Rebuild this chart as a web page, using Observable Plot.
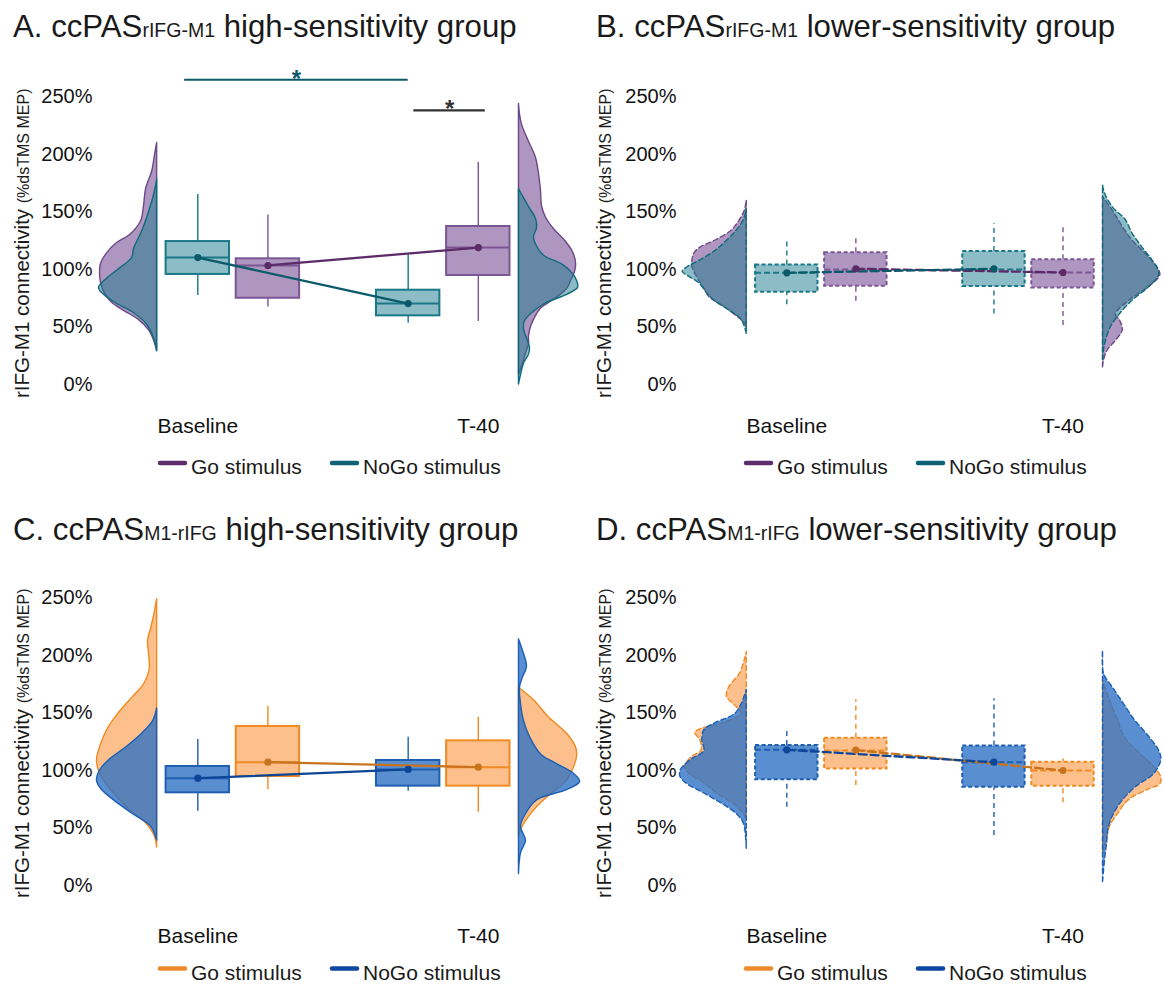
<!DOCTYPE html>
<html><head><meta charset="utf-8">
<script src="https://cdn.jsdelivr.net/npm/d3@7"></script>
<script src="https://cdn.jsdelivr.net/npm/@observablehq/plot@0.6"></script>
<style>
html,body{margin:0;padding:0;background:#fff;}
#root{position:relative;width:1164px;height:985px;overflow:hidden;background:#fff;}
.panel{position:absolute;}
</style></head><body><div id="root"></div>
<script>
// ---------- DATA ----------
const times = ["Baseline", "T-40"];
const conditions = ["Go", "NoGo"];
const legendLabels = ["Go stimulus", "NoGo stimulus"];
const yTicks = [0, 50, 100, 150, 200, 250];
const panelLetters = ["A.", "B.", "C.", "D."];
const titleSubs = ["rIFG-M1", "rIFG-M1", "M1-rIFG", "M1-rIFG"];
const titleRest = [" high-sensitivity group", " lower-sensitivity group", " high-sensitivity group", " lower-sensitivity group"];
const yLabelMain = "rIFG-M1 connectivity ";
const yLabelUnit = "(%dsTMS MEP)";

// box statistics (% of dsTMS MEP)
const boxesA = [
  {time: "Baseline", cond: "NoGo", lo: 77.4, q1: 95.7, med: 110.4, q3: 124.3, hi: 165.2, mean: 110.4},
  {time: "Baseline", cond: "Go",   lo: 67.5, q1: 75.0, med: 103.5, q3: 109.3, hi: 147.5, mean: 103.5},
  {time: "T-40",     cond: "NoGo", lo: 53.3, q1: 59.7, med: 70.4,  q3: 82.0,  hi: 112.8, mean: 70.4},
  {time: "T-40",     cond: "Go",   lo: 54.8, q1: 94.8, med: 119.1, q3: 137.4, hi: 193.0, mean: 119.1}
];
const boxesB = [
  {time: "Baseline", cond: "NoGo", lo: 69.3, q1: 80.3, med: 97.1,  q3: 104.0, hi: 125.2, mean: 97.1},
  {time: "Baseline", cond: "Go",   lo: 72.5, q1: 85.5, med: 100.0, q3: 114.5, hi: 128.7, mean: 100.6},
  {time: "T-40",     cond: "NoGo", lo: 61.4, q1: 85.2, med: 100.0, q3: 115.7, hi: 139.7, mean: 100.6},
  {time: "T-40",     cond: "Go",   lo: 51.3, q1: 84.0, med: 97.4,  q3: 108.4, hi: 137.7, mean: 97.4}
];
const boxesC = [
  {time: "Baseline", cond: "NoGo", lo: 64.6, q1: 80.6, med: 93.3,  q3: 103.5, hi: 127.0, mean: 93.3},
  {time: "Baseline", cond: "Go",   lo: 83.2, q1: 94.8, med: 107.2, q3: 138.3, hi: 155.9, mean: 107.2},
  {time: "T-40",     cond: "NoGo", lo: 82.0, q1: 86.4, med: 100.9, q3: 108.7, hi: 129.0, mean: 100.9},
  {time: "T-40",     cond: "Go",   lo: 63.8, q1: 86.4, med: 102.9, q3: 125.8, hi: 146.4, mean: 102.9}
];
const boxesD = [
  {time: "Baseline", cond: "NoGo", lo: 68.0, q1: 91.9,  med: 118.0, q3: 121.7, hi: 136.3, mean: 118.0},
  {time: "Baseline", cond: "Go",   lo: 87.0, q1: 101.4, med: 117.4, q3: 128.1, hi: 161.5, mean: 117.7},
  {time: "T-40",     cond: "NoGo", lo: 43.5, q1: 85.5,  med: 107.2, q3: 121.2, hi: 162.3, mean: 107.2},
  {time: "T-40",     cond: "Go",   lo: 71.9, q1: 86.4,  med: 100.0, q3: 107.2, hi: 110.2, mean: 100.0}
];

// half-violin densities: [value %, density]
const violinA_Go_Baseline = [[210,0],[200,2],[185,5],[170,11],[156,13],[142,16],[130,27],[123,40],[114,50],[105,56],[96,57],[88,56],[79,52],[71,45],[64,33],[56,18],[47,8],[38,3],[29,0]];
const violinA_NoGo_Baseline = [[178,0],[165,3],[150,8],[133,15],[118,23],[110,25],[101,37],[92,50],[84,58],[78,53],[70,40],[62,23],[52,10],[40,3],[29,0]];
const violinA_Go_T40 = [[244,0],[235,1],[226,3],[211,10],[197,17],[183,20],[168,22],[155,23],[145,27],[135,35],[125,46],[115,54],[105,57],[98,56],[90,52],[83,48],[75,37],[66,22],[58,16],[50,12],[42,10],[35,10],[27,7],[18,4],[8,0]];
const violinA_NoGo_T40 = [[170,0],[162,5],[153,11],[144,17],[136,18],[128,15],[120,18],[112,25],[104,44],[96,54],[90,58],[84,59],[78,48],[70,26],[62,13],[55,6],[48,5],[40,8],[32,11],[26,10],[18,5],[8,2],[0,0]];

const violinB_Go_Baseline = [[160,0],[151,2],[143,7],[134,15],[125,32],[119,47],[114,53],[108,55],[102,55],[96,52],[90,48],[82,42],[76,38],[67,22],[58,8],[53,2],[50,0]];
const violinB_NoGo_Baseline = [[153,0],[143,3],[134,10],[125,20],[116,32],[108,47],[102,60],[98,65],[93,57],[88,48],[79,40],[73,33],[64,17],[56,5],[44,0]];
const violinB_Go_T40 = [[163,0],[151,10],[137,20],[125,30],[114,43],[102,55],[95,58],[85,47],[73,27],[61,13],[56,17],[47,20],[38,13],[30,5],[21,1],[15,0]];
const violinB_NoGo_T40 = [[173,0],[166,2],[154,10],[143,23],[131,30],[119,40],[108,50],[96,57],[85,47],[73,30],[61,17],[50,8],[38,3],[30,1],[21,0]];

const violinC_Go_Baseline = [[249,0],[239,2],[225,5.5],[213,9],[201,8],[187,7.5],[175,13],[164,24],[149,39],[135,50],[120,57],[109,60],[97,57],[83,46],[68,30],[54,11],[42,2],[33,0]];
const violinC_NoGo_Baseline = [[154,0],[143,4],[132,15],[120,31],[109,48],[100,57],[91,60],[83,55],[74,43],[62,24],[51,6],[39,0]];
const violinC_Go_T40 = [[172,0],[161,15],[146,30],[132,48],[120,57],[112,58],[103,55],[91,48],[80,33],[68,18],[56,7],[48,2],[42,0]];
const violinC_NoGo_T40 = [[214,0],[204,4],[190,8],[181,4],[172,1],[158,2],[143,5],[129,11],[114,22],[106,37],[97,55],[90,61],[83,48],[74,18],[62,7],[51,2],[39,7],[28,2],[10,0]];

const violinD_Go_Baseline = [[203,0],[196,2],[184,7],[172,18],[164,20],[155,10],[149,5],[141,25],[133,52],[126,47],[117,46],[112,55],[103,63],[97,58],[90,45],[80,30],[70,12],[62,3],[58,0]];
const violinD_NoGo_Baseline = [[170,0],[158,5],[149,12],[141,32],[135,43],[126,45],[117,43],[109,57],[100,67],[94,67],[88,60],[80,43],[71,25],[62,10],[54,3],[45,1],[32,0]];
const violinD_Go_T40 = [[178,0],[161,7],[144,15],[129,22],[115,37],[103,52],[94,59],[88,58],[83,45],[74,26],[62,15],[51,7],[36,3],[28,0]];
const violinD_NoGo_T40 = [[204,0],[184,1],[172,10],[158,21],[144,32],[129,47],[117,57],[109,59],[97,52],[86,34],[74,20],[62,11],[51,6],[36,4],[22,2],[3,0]];

// significance brackets (panel A only)
const sigA = [
  {from: ["Baseline", "NoGo"], to: ["T-40", "NoGo"], level: 265, label: "*", tone: "NoGo"},
  {from: ["T-40", "NoGo"], to: ["T-40", "Go"], level: 238.3, label: "*", tone: "neutral"}
];

// ---------- STYLE / LAYOUT ----------
const palAB = {
  Go:   {vfill: "#8c69a6", vop: 0.7, vstroke: "#6d4888", bfill: "#8c69a6", bop: 0.7, bstroke: "#7a5695", mean: "#5b2a67", legend: "#5e2d6b"},
  NoGo: {vfill: "#1a7a8c", vop: 0.5, vstroke: "#0f6a7c", bfill: "#1a7a8c", bop: 0.5, bstroke: "#1a7887", mean: "#0b5a6a", legend: "#0e6276"},
  neutral: {mean: "#333333"}
};
const palCD = {
  Go:   {vfill: "#fb8c2e", vop: 0.55, vstroke: "#f0891f", bfill: "#fb8c2e", bop: 0.55, bstroke: "#f08a22", mean: "#c8731d", legend: "#ee8a2b"},
  NoGo: {vfill: "#2f72c4", vop: 0.8, vstroke: "#1c5fb3", bfill: "#2f72c4", bop: 0.8, bstroke: "#1f5fb2", mean: "#0d4696", legend: "#0d47a1"},
  neutral: {mean: "#333333"}
};
const FONT = "'Liberation Sans', Arial, Helvetica, sans-serif";

const panels = [
  {boxes: boxesA, vio: {Go: [violinA_Go_Baseline, violinA_Go_T40], NoGo: [violinA_NoGo_Baseline, violinA_NoGo_T40]}, sig: sigA,
   left: 0, top: 0, height: 501, xr: [197.3, 477.8], ml: 100, xPad: 8, titleX: 13, titleY: 37, ylabY: 398, legX: 0, legY: 463, dashed: false, pal: palAB},
  {boxes: boxesB, vio: {Go: [violinB_Go_Baseline, violinB_Go_T40], NoGo: [violinB_NoGo_Baseline, violinB_NoGo_T40]}, sig: [],
   left: 582, top: 0, height: 501, xr: [204.3, 480.5], ml: 102, xPad: 8, titleX: 14, titleY: 37, ylabY: 398, legX: 4, legY: 463, dashed: true, pal: palAB},
  {boxes: boxesC, vio: {Go: [violinC_Go_Baseline, violinC_Go_T40], NoGo: [violinC_NoGo_Baseline, violinC_NoGo_T40]}, sig: [],
   left: 0, top: 501, height: 484, xr: [197.3, 477.8], ml: 100, xPad: 17, titleX: 13, titleY: 39, ylabY: 397, legX: 0, legY: 467.5, dashed: false, pal: palCD},
  {boxes: boxesD, vio: {Go: [violinD_Go_Baseline, violinD_Go_T40], NoGo: [violinD_NoGo_Baseline, violinD_NoGo_T40]}, sig: [],
   left: 582, top: 501, height: 484, xr: [204.3, 480.5], ml: 102, xPad: 17, titleX: 14, titleY: 39, ylabY: 397, legX: 4, legY: 467.5, dashed: true, pal: palCD}
];

const posOf = (time, cond) => 1 + 0.75 * times.indexOf(time) + (cond === "Go" ? 0.25 : 0);
const bx = d => posOf(d.time, d.cond);
const HW = 0.113;          // half box width (x units)
const VK = 1 / 280;        // density -> x units
const VOFF = 0.145;        // violin base offset from outer boxes

function build(P, idx) {
  const pal = P.pal;
  const dash = a => P.dashed ? a : undefined;
  const marks = [];
  // half violins (Go below, NoGo on top)
  for (const c of conditions) {
    times.forEach((t, ti) => {
      const base = ti === 0 ? 1 - VOFF : 2 + VOFF;
      const dir = ti === 0 ? -1 : 1;
      const data = P.vio[c][ti].slice().sort((a, b) => a[0] - b[0]);
      marks.push(Plot.areaX(data, {
        y: d => d[0], x1: () => base, x2: d => base + dir * d[1] * VK,
        curve: "catmull-rom", fill: pal[c].vfill, fillOpacity: pal[c].vop,
        stroke: pal[c].vstroke, strokeWidth: 1.4, strokeDasharray: dash("5,3")
      }));
    });
  }
  // boxes
  for (const c of ["NoGo", "Go"]) {
    const bs = P.boxes.filter(b => b.cond === c);
    const S = pal[c];
    marks.push(Plot.ruleX(bs, {x: bx, y1: "q3", y2: "hi", stroke: S.bstroke, strokeWidth: 1.4, strokeDasharray: dash("5,4")}));
    marks.push(Plot.ruleX(bs, {x: bx, y1: "lo", y2: "q1", stroke: S.bstroke, strokeWidth: 1.4, strokeDasharray: dash("5,4")}));
    marks.push(Plot.rect(bs, {x1: d => bx(d) - HW, x2: d => bx(d) + HW, y1: "q1", y2: "q3",
      fill: S.bfill, fillOpacity: S.bop, stroke: S.bstroke, strokeWidth: 2, strokeDasharray: dash("4,2.5")}));
    marks.push(Plot.ruleY(bs, {y: "med", x1: d => bx(d) - HW, x2: d => bx(d) + HW, stroke: S.bstroke, strokeWidth: 2, strokeDasharray: dash("6,3")}));
  }
  // mean lines + dots
  for (const c of conditions) {
    const bs = P.boxes.filter(b => b.cond === c).slice().sort((a, b) => bx(a) - bx(b));
    marks.push(Plot.line(bs, {x: bx, y: "mean", stroke: pal[c].mean, strokeWidth: 2.3, strokeDasharray: dash("8,4")}));
  }
  for (const c of conditions) {
    const bs = P.boxes.filter(b => b.cond === c);
    marks.push(Plot.dot(bs, {x: bx, y: "mean", r: 3.6, fill: pal[c].mean, stroke: "none"}));
  }
  // significance
  if (P.sig.length) {
    const sx1 = s => posOf(...s.from) - (s.from[0] === s.to[0] ? -0.02 : 0.047);
    const sx2 = s => posOf(...s.to) + (s.from[0] === s.to[0] ? 0.025 : 0);
    for (const s of P.sig) {
      marks.push(Plot.ruleY([s], {y: "level", x1: sx1, x2: sx2, stroke: pal[s.tone].mean, strokeWidth: 2.2}));
      marks.push(Plot.text([s], {x: d => (sx1(d) + sx2(d)) / 2, y: "level", text: "label", lineAnchor: "bottom", dy: 7,
        fontSize: 24, fontWeight: "bold", fill: pal[s.tone].mean}));
    }
  }
  // axes
  marks.push(Plot.axisY({ticks: yTicks, tickFormat: d => d + "%", tickSize: 0, tickPadding: 8, fontSize: 20, label: null}));
  marks.push(Plot.axisX({ticks: [1, 2], tickFormat: d => times[Math.round(d) - 1], tickSize: 0, tickPadding: P.xPad, fontSize: 21, label: null}));

  const svg = Plot.plot({
    width: 582, height: P.height,
    marginLeft: P.ml, marginRight: 0, marginTop: 0, marginBottom: P.height - 410,
    x: {type: "linear", domain: [1, 2], range: P.xr},
    y: {type: "linear", domain: [0, 250], range: [384, 96.5]},
    style: {fontFamily: FONT, color: "#111", background: "transparent", overflow: "visible"},
    marks
  });

  const g = d3.select(svg);
  // title
  const title = g.append("text").attr("x", P.titleX).attr("y", P.titleY).attr("text-anchor", "start")
    .attr("font-family", FONT).attr("font-size", 31.2).attr("fill", "#1a1a1a");
  title.append("tspan").text(panelLetters[idx] + " ccPAS");
  title.append("tspan").attr("font-size", 19.5).text(titleSubs[idx]);
  title.append("tspan").text(titleRest[idx]);
  // y label
  const yl = g.append("text").attr("transform", `translate(28.5,${P.ylabY}) rotate(-90)`).attr("text-anchor", "start")
    .attr("font-family", FONT).attr("font-size", 20.5).attr("fill", "#1a1a1a");
  yl.append("tspan").text(yLabelMain);
  yl.append("tspan").attr("font-size", 16).text(yLabelUnit);
  // legend
  const legStarts = [158, 330];
  conditions.forEach((c, i) => {
    const x0 = legStarts[i] + P.legX;
    g.append("line").attr("x1", x0 + 2).attr("x2", x0 + 27).attr("y1", P.legY).attr("y2", P.legY)
      .attr("stroke", pal[c].legend).attr("stroke-width", 4.5).attr("stroke-linecap", "round");
    g.append("text").attr("x", x0 + 33).attr("y", P.legY + 11).attr("text-anchor", "start").attr("font-family", FONT)
      .attr("font-size", 21).attr("fill", "#1a1a1a").text(legendLabels[i]);
  });
  return svg;
}

const root = document.getElementById("root");
panels.forEach((P, i) => {
  const div = document.createElement("div");
  div.className = "panel";
  div.style.left = P.left + "px";
  div.style.top = P.top + "px";
  div.appendChild(build(P, i));
  root.appendChild(div);
});
</script>
</body></html>
